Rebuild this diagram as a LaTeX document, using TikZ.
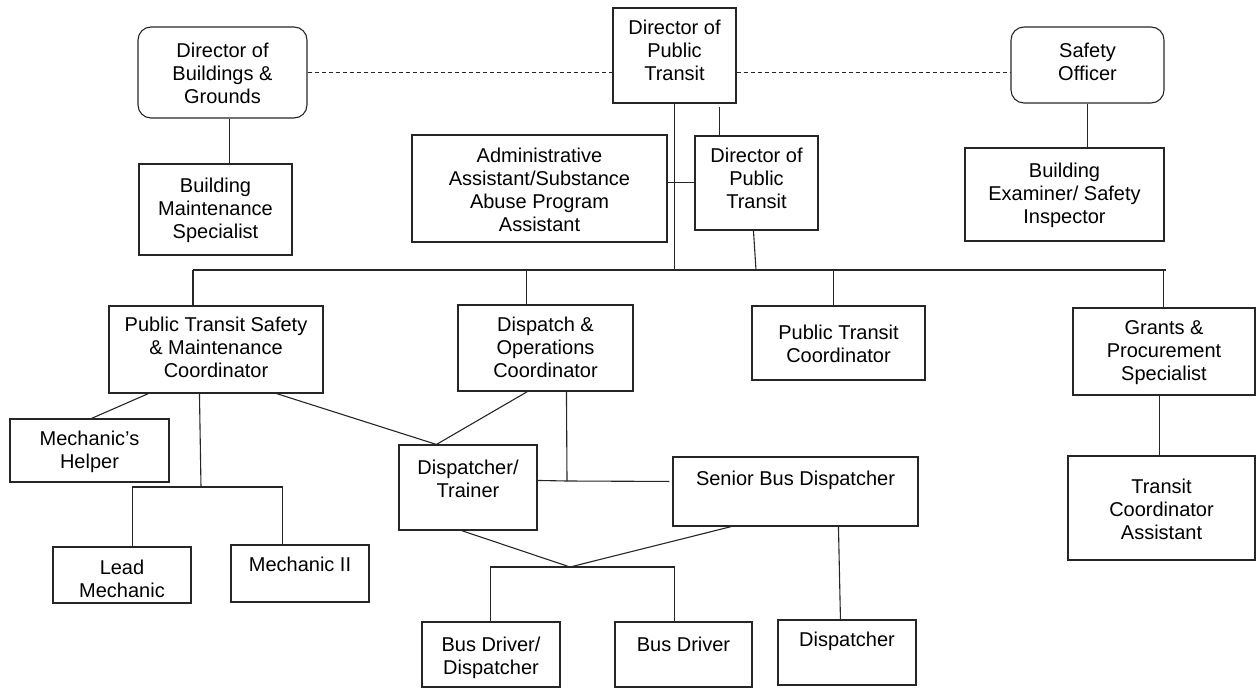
\documentclass[tikz,border=0pt]{standalone}
\usepackage{fontspec}
\setmainfont{Liberation Sans}
\usetikzlibrary{fit,calc}
\begin{document}
\begin{tikzpicture}[x=1pt,y=-1pt,
  box/.style={draw=black!85, line width=1.1pt, inner sep=0pt},
  rbox/.style={box, rounded corners=13pt},
  txt/.style={inner sep=0pt, align=center, font=\fontsize{20}{23}\selectfont},
  ctxt/.style={txt, anchor=center, yshift=-1pt},
  ttxt/.style={txt, anchor=north},
  ln/.style={draw=black!85, line width=1.1pt},
  dl/.style={ln, dash pattern=on 4pt off 3pt}]
\useasboundingbox (0,0) rectangle (1257,690);
% boxes
\node[rbox, fit={(138,27) (307,118)}] (bg) {};
\node[ctxt] (bgt) at (bg.center) {Director of\\Buildings \&\\Grounds};
\node[box, fit={(613,8) (736,103)}] (dpt) {};
\node[ctxt] (dptt) at ([yshift=6pt]dpt.center) {Director of\\Public\\Transit};
\node[rbox, fit={(1011,27) (1164,103)}] (so) {};
\node[ctxt] (sot) at ([yshift=4pt]so.center) {Safety\\Officer};
\node[box, fit={(139,164) (292,255)}] (bms) {};
\node[ctxt] (bmst) at (bms.center) {Building\\Maintenance\\Specialist};
\node[box, fit={(412,135) (667,242)}] (adm) {};
\node[ctxt] (admt) at (adm.center) {Administrative\\Assistant/Substance\\Abuse Program\\Assistant};
\node[box, fit={(695,136) (818,230)}] (dpt2) {};
\node[ctxt] (dpt2t) at ([yshift=6pt]dpt2.center) {Director of\\Public\\Transit};
\node[box, fit={(965,148) (1164,241)}] (bei) {};
\node[ctxt] (beit) at (bei.center) {Building\\Examiner/ Safety\\Inspector};
\node[box, fit={(109,306) (323,393)}] (ptsm) {};
\node[ctxt] (ptsmt) at ([yshift=3pt]ptsm.center) {Public Transit Safety\\\& Maintenance\\Coordinator};
\node[box, fit={(458,305) (633,391)}] (dops) {};
\node[ctxt] (dopst) at ([yshift=2pt]dops.center) {Dispatch \&\\Operations\\Coordinator};
\node[box, fit={(752,306) (925,380)}] (ptc) {};
\node[ctxt] (ptct) at (ptc.center) {Public Transit\\Coordinator};
\node[box, fit={(1073,308) (1255,395)}] (gps) {};
\node[ctxt] (gpst) at (gps.center) {Grants \&\\Procurement\\Specialist};
\node[box, fit={(1068,456) (1255,560)}] (tca) {};
\node[ctxt] (tcat) at (tca.center) {Transit\\Coordinator\\Assistant};
\node[box, fit={(10,419) (169,482)}] (mh) {};
\node[ctxt] (mht) at (mh.center) {Mechanic’s\\Helper};
\node[box, fit={(399,445) (537,530)}] (dt) {};
\node[ttxt] (dtt) at ([yshift=-15pt]dt.north) {Dispatcher/\\Trainer};
\node[box, fit={(673,457) (918,526)}] (sbd) {};
\node[ttxt] (sbdt) at ([yshift=-14pt]sbd.north) {Senior Bus Dispatcher};
\node[box, fit={(53,547) (191,603)}] (lm) {};
\node[ctxt] (lmt) at ([yshift=-3pt]lm.center) {Lead\\Mechanic};
\node[box, fit={(231,545) (369,602)}] (m2) {};
\node[ttxt] (m2t) at ([yshift=-12pt]m2.north) {Mechanic II};
\node[box, fit={(422,622) (560,687)}] (bdd) {};
\node[ttxt] (bddt) at ([yshift=-15pt]bdd.north) {Bus Driver/\\Dispatcher};
\node[box, fit={(615,622) (752,687)}] (bd) {};
\node[ttxt] (bdt) at ([yshift=-15pt]bd.north) {Bus Driver};
\node[box, fit={(778,620) (916,685)}] (dsp) {};
\node[ttxt] (dspt) at ([yshift=-12pt]dsp.north) {Dispatcher};
% dashed staff links
\draw[dl] (bg.east) -- (bg.east -| dpt.west);
\draw[dl] (bg.east -| dpt.east) -- (bg.east -| so.west);
% top connectors
\coordinate (bgB) at ($(bg.south west)+(92,0)$);
\draw[ln] (bgB) -- (bgB |- bms.north);
\coordinate (soB) at ($(so.south west)+(77,0)$);
\draw[ln] (soB) -- (soB |- bei.north);
\coordinate (busL) at (193,270);
\coordinate (busR) at (1166,270);
\draw[ln] (busL) -- (busR);
\draw[ln] (dpt.south) -- (dpt.south |- busL);
\coordinate (admR) at ($(adm.north east)+(0,48)$);
\draw[ln] (admR) -- (admR -| dpt2.west);
\coordinate (d2T) at ($(dpt2.north west)+(25,0)$);
\draw[ln] ($(d2T |- dpt.south)+(0,3)$) -- (d2T);
\coordinate (d2B) at ($(dpt2.south west)+(59,0)$);
\coordinate (d2J) at (756,270);
\draw[ln] (d2B) -- (d2J);
% drops from bus
\draw[ln] (busL) -- (ptsm.north -| busL);
\coordinate (dopsT) at ($(dops.north west)+(69,0)$);
\draw[ln] (dopsT) -- (dopsT |- busL);
\coordinate (ptcT) at ($(ptc.north west)+(82,0)$);
\draw[ln] (ptcT) -- (ptcT |- busL);
\coordinate (gpsT) at ($(gps.north west)+(91,0)$);
\draw[ln] (gpsT) -- (gpsT |- busL);
\coordinate (gpsB) at ($(gps.south west)+(87,0)$);
\draw[ln] (gpsB) -- (gpsB |- tca.north);
% maintenance branch
\draw[ln] ($(ptsm.south west)+(40,0)$) -- ($(mh.north west)+(82,0)$);
\coordinate (jm) at (201,487);
\draw[ln] ($(ptsm.south west)+(91,0)$) -- (jm);
\draw[ln] ($(lm.north west)+(80,0)$) |- (jm) -| ($(m2.north west)+(52,0)$);
% dispatch branch
\coordinate (jt) at ($(dt.north west)+(38,0)$);
\draw[ln] ($(ptsm.south west)+(168,0)$) -- (jt);
\draw[ln] ($(dops.south west)+(70,0)$) -- (jt);
\coordinate (jd) at (567,481);
\draw[ln] ($(dops.south west)+(109,0)$) -- (jd);
\draw[ln] ($(dt.north east)+(0,36)$) -- (jd) -- ($(sbd.north west)+(-3,25)$);
\coordinate (jb) at (570,567);
\draw[ln] ($(dt.south west)+(63,0)$) -- (jb);
\draw[ln] ($(sbd.south west)+(59,0)$) -- (jb);
\draw[ln] ($(bdd.north west)+(69,0)$) |- (jb) -| ($(bd.north west)+(60,0)$);
\draw[ln] ($(sbd.south west)+(166,0)$) -- ($(dsp.north west)+(63,0)$);
\end{tikzpicture}
\end{document}
